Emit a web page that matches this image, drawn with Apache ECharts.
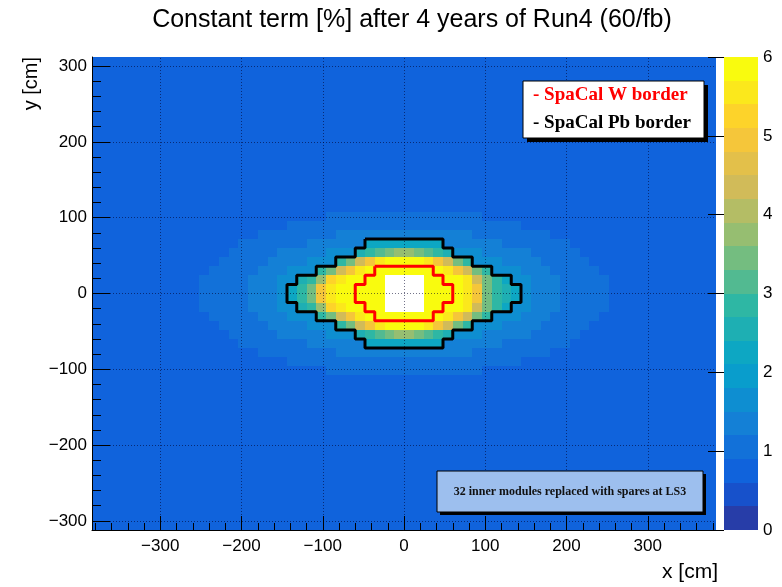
<!DOCTYPE html>
<html><head><meta charset="utf-8">
<script src="https://cdn.jsdelivr.net/npm/echarts@6/dist/echarts.min.js"></script>
<style>html,body{margin:0;padding:0;background:#fff}#c{width:782px;height:587px}</style>
</head><body><div id="c"></div>
<script>
// ================= DATA =================
const xRange = [-384, 384];          // cm
const yRange = [-312, 312];          // cm
const binSize = 12;                  // cm, module size
const backgroundValue = 0.8;         // uniform value of all outer modules
const windowLeftCentre = -258;       // x centre of first column in the rows below
const windowTopCentre = 102;         // y centre of first row below
const xTicks = [-300, -200, -100, 0, 100, 200, 300];
const yTicks = [-300, -200, -100, 0, 100, 200, 300];
const zTicks = [0, 1, 2, 3, 4, 5, 6];
const zMax = 6;
const nContours = 20;

// central window, x centres -258 ... 258 (44 cells), null = beam hole (no module)
const rowY102 = [0.8,0.8,0.8,0.8,0.8,0.8,0.8,0.8,0.8,0.8,0.8,0.8,0.8,0.8,1.05,1.05,1.05,1.05,1.05,1.05,1.05,1.05,1.05,1.05,1.05,1.05,1.05,1.05,1.05,1.05,0.8,0.8,0.8,0.8,0.8,0.8,0.8,0.8,0.8,0.8,0.8,0.8,0.8,0.8];
const rowY090 = [0.8,0.8,0.8,0.8,0.8,0.8,0.8,0.8,0.8,0.8,1.05,1.05,1.05,1.05,1.05,1.05,1.05,1.05,1.05,1.05,1.05,1.05,1.05,1.05,1.05,1.05,1.05,1.05,1.05,1.05,1.05,1.05,1.05,1.05,0.8,0.8,0.8,0.8,0.8,0.8,0.8,0.8,0.8,0.8];
const rowY078 = [0.8,0.8,0.8,0.8,0.8,0.8,0.8,1.05,1.05,1.05,1.05,1.05,1.05,1.05,1.05,1.35,1.35,1.35,1.35,1.35,1.35,1.35,1.35,1.35,1.35,1.35,1.35,1.35,1.35,1.05,1.05,1.05,1.05,1.05,1.05,1.05,1.05,0.8,0.8,0.8,0.8,0.8,0.8,0.8];
const rowY066 = [0.8,0.8,0.8,0.8,0.8,1.05,1.05,1.05,1.05,1.05,1.05,1.05,1.35,1.35,1.35,1.35,1.35,1.35,2.1,2.2,2.3,2.3,2.3,2.3,2.2,2.1,1.35,1.35,1.35,1.35,1.35,1.35,1.05,1.05,1.05,1.05,1.05,1.05,1.05,0.8,0.8,0.8,0.8,0.8];
const rowY054 = [0.8,0.8,0.8,0.8,1.05,1.05,1.05,1.05,1.05,1.35,1.35,1.35,1.35,1.35,1.65,1.65,1.65,2.5,2.8,3.2,3.5,3.8,3.8,3.5,3.2,2.8,2.5,1.65,1.65,1.65,1.35,1.35,1.35,1.35,1.35,1.05,1.05,1.05,1.05,1.05,0.8,0.8,0.8,0.8];
const rowY042 = [0.8,0.8,0.8,1.05,1.05,1.05,1.05,1.05,1.35,1.35,1.35,1.35,1.65,1.65,1.65,2.8,3.3,4.2,5.0,5.6,5.8,5.8,5.8,5.8,5.6,5.0,4.2,3.3,2.8,1.65,1.65,1.65,1.35,1.35,1.35,1.35,1.05,1.05,1.05,1.05,1.05,0.8,0.8,0.8];
const rowY030 = [0.8,0.8,1.05,1.05,1.05,1.05,1.05,1.35,1.35,1.35,1.65,1.65,1.65,2.8,3.3,4.4,5.0,5.6,6,6,6,6,6,6,6,6,5.6,5.0,4.4,3.3,2.8,1.65,1.65,1.65,1.35,1.35,1.35,1.05,1.05,1.05,1.05,1.05,0.8,0.8];
const rowY018 = [0.8,1.05,1.05,1.05,1.05,1.05,1.35,1.35,1.35,1.65,1.65,2.4,2.9,3.8,5.3,5.6,6,6,6,6,null,null,null,null,6,6,6,6,5.6,4.4,3.3,2.8,2.3,1.65,1.65,1.35,1.35,1.35,1.05,1.05,1.05,1.05,1.05,0.8];
const rowY006 = [0.8,1.05,1.05,1.05,1.05,1.05,1.35,1.35,1.35,1.65,2.3,2.7,3.3,5.0,5.6,5.8,6,6,6,6,null,null,null,null,6,6,6,6,5.6,5.0,3.5,2.9,2.5,2.2,1.65,1.35,1.35,1.35,1.05,1.05,1.05,1.05,1.05,0.8];
const rowYm006 = [0.8,1.05,1.05,1.05,1.05,1.05,1.35,1.35,1.35,1.65,2.3,2.7,3.3,5.0,5.6,5.8,6,6,6,6,null,null,null,null,6,6,6,6,5.6,5.0,3.5,2.9,2.5,2.2,1.65,1.35,1.35,1.35,1.05,1.05,1.05,1.05,1.05,0.8];
const rowYm018 = [0.8,1.05,1.05,1.05,1.05,1.05,1.35,1.35,1.35,1.65,1.65,2.4,2.9,3.8,5.3,5.6,6,6,6,6,null,null,null,null,6,6,6,6,5.6,4.4,3.3,2.8,2.3,1.65,1.65,1.35,1.35,1.35,1.05,1.05,1.05,1.05,1.05,0.8];
const rowYm030 = [0.8,0.8,1.05,1.05,1.05,1.05,1.05,1.35,1.35,1.35,1.65,1.65,1.65,2.8,3.3,4.4,5.0,5.6,6,6,6,6,6,6,6,6,5.6,5.0,4.4,3.3,2.8,1.65,1.65,1.65,1.35,1.35,1.35,1.05,1.05,1.05,1.05,1.05,0.8,0.8];
const rowYm042 = [0.8,0.8,0.8,1.05,1.05,1.05,1.05,1.05,1.35,1.35,1.35,1.35,1.65,1.65,1.65,2.8,3.3,4.2,5.0,5.6,5.8,5.8,5.8,5.8,5.6,5.0,4.2,3.3,2.8,1.65,1.65,1.65,1.35,1.35,1.35,1.35,1.05,1.05,1.05,1.05,1.05,0.8,0.8,0.8];
const rowYm054 = [0.8,0.8,0.8,0.8,1.05,1.05,1.05,1.05,1.05,1.35,1.35,1.35,1.35,1.35,1.65,1.65,1.65,2.5,2.8,3.2,3.5,3.8,3.8,3.5,3.2,2.8,2.5,1.65,1.65,1.65,1.35,1.35,1.35,1.35,1.35,1.05,1.05,1.05,1.05,1.05,0.8,0.8,0.8,0.8];
const rowYm066 = [0.8,0.8,0.8,0.8,0.8,1.05,1.05,1.05,1.05,1.05,1.05,1.05,1.35,1.35,1.35,1.35,1.35,1.35,2.1,2.2,2.3,2.3,2.3,2.3,2.2,2.1,1.35,1.35,1.35,1.35,1.35,1.35,1.05,1.05,1.05,1.05,1.05,1.05,1.05,0.8,0.8,0.8,0.8,0.8];
const rowYm078 = [0.8,0.8,0.8,0.8,0.8,0.8,0.8,1.05,1.05,1.05,1.05,1.05,1.05,1.05,1.05,1.35,1.35,1.35,1.35,1.35,1.35,1.35,1.35,1.35,1.35,1.35,1.35,1.35,1.35,1.05,1.05,1.05,1.05,1.05,1.05,1.05,1.05,0.8,0.8,0.8,0.8,0.8,0.8,0.8];
const rowYm090 = [0.8,0.8,0.8,0.8,0.8,0.8,0.8,0.8,0.8,0.8,1.05,1.05,1.05,1.05,1.05,1.05,1.05,1.05,1.05,1.05,1.05,1.05,1.05,1.05,1.05,1.05,1.05,1.05,1.05,1.05,1.05,1.05,1.05,1.05,0.8,0.8,0.8,0.8,0.8,0.8,0.8,0.8,0.8,0.8];
const rowYm102 = [0.8,0.8,0.8,0.8,0.8,0.8,0.8,0.8,0.8,0.8,0.8,0.8,0.8,0.8,1.05,1.05,1.05,1.05,1.05,1.05,1.05,1.05,1.05,1.05,1.05,1.05,1.05,1.05,1.05,1.05,0.8,0.8,0.8,0.8,0.8,0.8,0.8,0.8,0.8,0.8,0.8,0.8,0.8,0.8];
const windowRows = [rowY102,rowY090,rowY078,rowY066,rowY054,rowY042,rowY030,rowY018,rowY006,
                    rowYm006,rowYm018,rowYm030,rowYm042,rowYm054,rowYm066,rowYm078,rowYm090,rowYm102];

// module borders (cm)
const wBorder = [[-36,36],[36,36],[36,24],[48,24],[48,12],[60,12],[60,-12],[48,-12],[48,-24],[36,-24],[36,-36],
  [-36,-36],[-36,-24],[-48,-24],[-48,-12],[-60,-12],[-60,12],[-48,12],[-48,24],[-36,24],[-36,36]];
const pbBorder = [[-48,72],[48,72],[48,60],[60,60],[60,48],[84,48],[84,36],[108,36],[108,24],[132,24],[132,12],[144,12],
  [144,-12],[132,-12],[132,-24],[108,-24],[108,-36],[84,-36],[84,-48],[60,-48],[60,-60],[48,-60],[48,-72],
  [-48,-72],[-48,-60],[-60,-60],[-60,-48],[-84,-48],[-84,-36],[-108,-36],[-108,-24],[-132,-24],[-132,-12],[-144,-12],
  [-144,12],[-132,12],[-132,24],[-108,24],[-108,36],[-84,36],[-84,48],[-60,48],[-60,60],[-48,60],[-48,72]];

// ================= BUILD =================
const cells = [];
for (let yc = yRange[1] - binSize / 2; yc > yRange[0]; yc -= binSize) {
  for (let xc = xRange[0] + binSize / 2; xc < xRange[1]; xc += binSize) {
    let v = backgroundValue;
    const ri = Math.round((windowTopCentre - yc) / binSize);
    const ci = Math.round((xc - windowLeftCentre) / binSize);
    if (ri >= 0 && ri < windowRows.length && ci >= 0 && ci < windowRows[ri].length) v = windowRows[ri][ci];
    if (v !== null) cells.push([xc, yc, v]);
  }
}

// ROOT kBird palette
const bird = {
  s: [0, 0.125, 0.25, 0.375, 0.5, 0.625, 0.75, 0.875, 1],
  r: [0.2082, 0.0592, 0.0780, 0.0232, 0.1802, 0.5301, 0.8186, 0.9956, 0.9764],
  g: [0.1664, 0.3599, 0.5041, 0.6419, 0.7178, 0.7492, 0.7328, 0.7862, 0.9832],
  b: [0.5293, 0.8684, 0.8385, 0.7914, 0.6425, 0.4662, 0.3499, 0.1968, 0.0539]
};
function birdColor(t) {
  let k = 0;
  while (k < bird.s.length - 2 && t > bird.s[k + 1]) k++;
  const f = (t - bird.s[k]) / (bird.s[k + 1] - bird.s[k]);
  const c = ch => Math.round(255 * (bird[ch][k] + f * (bird[ch][k + 1] - bird[ch][k])));
  return 'rgb(' + c('r') + ',' + c('g') + ',' + c('b') + ')';
}
const step = zMax / nContours;
const pieces = [];
const levels = [];
for (let i = 0; i < nContours; i++) {
  const lo = Math.round(i * step * 1000) / 1000;
  const t = Math.floor((i + 0.99) * 255 / nContours) / 254;
  const color = birdColor(t);
  levels.push([0, lo, lo + step / 2]);
  if (i < nContours - 1) pieces.push({ gte: lo, lt: Math.round((i + 1) * step * 1000) / 1000, color });
  else pieces.push({ gte: lo, color });
}

const minus = v => (v < 0 ? '\u2212' + Math.abs(v) : String(v));
const minorX = [], minorY = [];
for (let v = -380; v <= 380; v += 20) if (v % 100 !== 0) minorX.push(v);
for (let v = -300; v <= 300; v += 20) if (v % 100 !== 0) minorY.push(v);

const FONT = 'Liberation Sans';
const SERIF = 'Liberation Serif';
const gridL = 92, gridT = 57, gridW = 624, gridH = 473;

const chart = echarts.init(document.getElementById('c'), null, { renderer: 'canvas' });
chart.setOption({
  animation: false,
  backgroundColor: '#fff',
  grid: [
    { left: gridL, top: gridT, width: gridW, height: gridH },
    { left: 724, top: gridT, width: 34, height: gridH }
  ],
  xAxis: [
    { type: 'value', gridIndex: 0, min: xRange[0], max: xRange[1], position: 'bottom', z: 6,
      axisLine: { onZero: false, lineStyle: { color: '#000', width: 1 } },
      axisTick: { customValues: xTicks, inside: true, length: 14, lineStyle: { color: '#000' } },
      axisLabel: { customValues: xTicks, formatter: minus, fontFamily: FONT, fontSize: 17, color: '#000', margin: 8 },
      splitLine: { show: false } },
    { type: 'value', gridIndex: 0, min: xRange[0], max: xRange[1], position: 'bottom', z: 6,
      axisLine: { show: false, onZero: false },
      axisTick: { customValues: minorX, inside: true, length: 7, lineStyle: { color: '#000' } },
      axisLabel: { show: false }, splitLine: { show: false } },
    { type: 'value', gridIndex: 1, min: 0, max: 1, show: false }
  ],
  yAxis: [
    { type: 'value', gridIndex: 0, min: yRange[0], max: yRange[1], position: 'left', z: 6,
      axisLine: { onZero: false, lineStyle: { color: '#000', width: 1 } },
      axisTick: { customValues: yTicks, inside: true, length: 18, lineStyle: { color: '#000' } },
      axisLabel: { customValues: yTicks, formatter: minus, fontFamily: FONT, fontSize: 17, color: '#000', margin: 5 },
      splitLine: { show: false } },
    { type: 'value', gridIndex: 0, min: yRange[0], max: yRange[1], position: 'left', z: 6,
      axisLine: { show: false, onZero: false },
      axisTick: { customValues: minorY, inside: true, length: 9, lineStyle: { color: '#000' } },
      axisLabel: { show: false }, splitLine: { show: false } },
    { type: 'value', gridIndex: 1, min: 0, max: zMax, interval: 1, position: 'right', z: 6,
      axisLine: { show: false },
      axisTick: { customValues: zTicks, inside: true, length: 16, lineStyle: { color: '#000', width: 1 } },
      axisLabel: { customValues: zTicks, fontFamily: FONT, fontSize: 17, color: '#000', margin: 5 },
      splitLine: { show: false } }
  ],
  visualMap: {
    type: 'piecewise', show: false, dimension: 2, seriesIndex: [0, 4], pieces: pieces
  },
  series: [
    { type: 'custom', xAxisIndex: 0, yAxisIndex: 0, z: 2, clip: true,
      encode: { x: 0, y: 1 }, data: cells,
      renderItem: function (params, api) {
        const x = api.value(0), y = api.value(1);
        const a = api.coord([x - binSize / 2, y + binSize / 2]);
        const b = api.coord([x + binSize / 2, y - binSize / 2]);
        const x0 = Math.round(a[0]), y0 = Math.round(a[1]), x1 = Math.round(b[0]), y1 = Math.round(b[1]);
        return { type: 'rect', shape: { x: x0, y: y0, width: x1 - x0, height: y1 - y0 }, style: { fill: api.visual('color') } };
      } },
    { type: 'line', xAxisIndex: 0, yAxisIndex: 0, z: 5, data: wBorder, showSymbol: false, symbol: 'none',
      lineStyle: { color: '#ff0000', width: 3 } },
    { type: 'line', xAxisIndex: 0, yAxisIndex: 0, z: 5, data: pbBorder, showSymbol: false, symbol: 'none',
      lineStyle: { color: '#000000', width: 3 } },
    { type: 'line', xAxisIndex: 0, yAxisIndex: 0, z: 4, data: [], symbol: 'none',
      markLine: { silent: true, symbol: ['none', 'none'], label: { show: false },
        lineStyle: { color: 'rgba(0,0,40,0.55)', type: [1, 2], width: 1 },
        data: xTicks.map(v => ({ xAxis: v })).concat(yTicks.map(v => ({ yAxis: v }))) } },
    { type: 'custom', xAxisIndex: 2, yAxisIndex: 2, z: 2, data: levels, encode: { x: 0, y: 1 },
      renderItem: function (params, api) {
        const lo = api.value(1);
        const a = api.coord([0, lo + step]);
        const b = api.coord([1, lo]);
        const y0 = Math.round(a[1]), y1 = Math.round(b[1]);
        return { type: 'rect', shape: { x: a[0], y: y0, width: b[0] - a[0], height: y1 - y0 }, style: { fill: api.visual('color') } };
      } }
  ],
  graphic: [
    { type: 'text', z: 20, x: 412, y: 20,
      style: { text: 'Constant term [%] after 4 years of Run4 (60/fb)', fontFamily: FONT, fontSize: 25, fill: '#000', align: 'center', verticalAlign: 'middle' } },
    { type: 'text', z: 20, x: 718, y: 572,
      style: { text: 'x [cm]', fontFamily: FONT, fontSize: 21, fill: '#000', align: 'right', verticalAlign: 'middle' } },
    { type: 'text', z: 20, x: 31, y: 57, rotation: Math.PI / 2,
      style: { text: 'y [cm]', fontFamily: FONT, fontSize: 20, fill: '#000', align: 'right', verticalAlign: 'middle' } },
    // legend box
    { type: 'rect', z: 20, shape: { x: 527, y: 85, width: 181, height: 57 }, style: { fill: '#000' } },
    { type: 'rect', z: 21, shape: { x: 523, y: 81, width: 181, height: 57 }, style: { fill: '#fff', stroke: '#000', lineWidth: 1 } },
    { type: 'text', z: 22, x: 533, y: 95,
      style: { text: '- SpaCal W border', fontFamily: SERIF, fontWeight: 'bold', fontSize: 19, fill: '#ff0000', verticalAlign: 'middle' } },
    { type: 'text', z: 22, x: 533, y: 123,
      style: { text: '- SpaCal Pb border', fontFamily: SERIF, fontWeight: 'bold', fontSize: 19, fill: '#000', verticalAlign: 'middle' } },
    // note box
    { type: 'rect', z: 20, shape: { x: 440, y: 474, width: 266, height: 41 }, style: { fill: '#000' } },
    { type: 'rect', z: 21, shape: { x: 437, y: 471, width: 266, height: 41 }, style: { fill: '#9dbfee', stroke: '#000', lineWidth: 1 } },
    { type: 'text', z: 22, x: 570, y: 492,
      style: { text: '32 inner modules replaced with spares at LS3', fontFamily: SERIF, fontWeight: 'bold', fontSize: 12, fill: '#111', align: 'center', verticalAlign: 'middle' } }
  ]
});
</script></body></html>
